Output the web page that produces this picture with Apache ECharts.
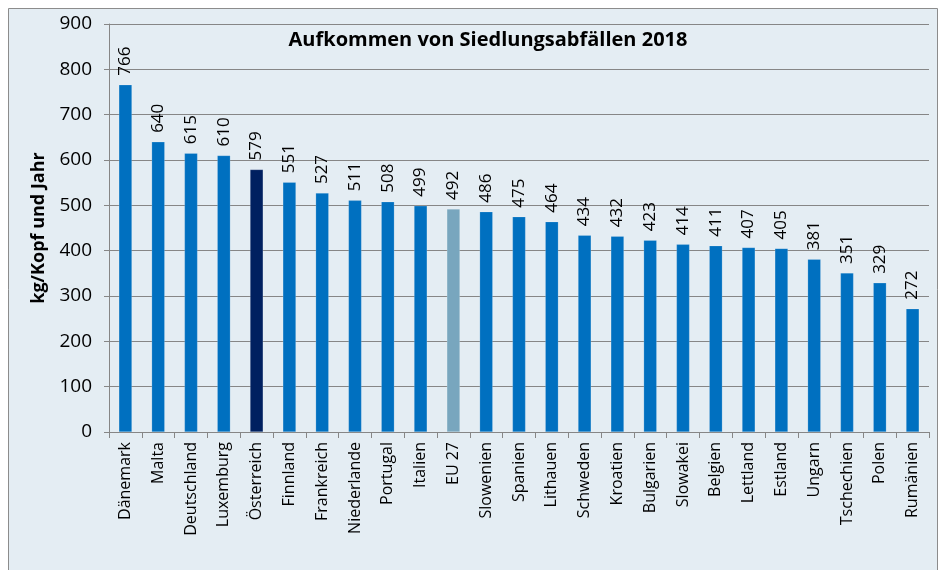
<!DOCTYPE html>
<html lang="de">
<head>
    <meta charset="utf-8">
    <title>Siedlungsabfälle 2018</title>
    <script src="https://cdn.jsdelivr.net/npm/echarts@6/dist/echarts.min.js"></script>
    <style>
        html, body { margin: 0; padding: 0; background: #ffffff; }
    </style>
</head>
<body>

<div id="main" style="width: 943px;height:570px;"></div>

<script type="text/javascript">

    var laender = ['Dänemark','Malta','Deutschland','Luxemburg','Österreich','Finnland','Frankreich','Niederlande',
        'Portugal','Italien','EU 27','Slowenien','Spanien','Lithauen','Schweden','Kroatien','Bulgarien',
        'Slowakei','Belgien','Lettland','Estland','Ungarn','Tschechien','Polen','Rumänien'];
    var werte = [766,640,615,610,579,551,527,511,508,499,492,486,475,464,434,432,423,414,411,407,405,381,351,329,272];
    var yTicks = [0,100,200,300,400,500,600,700,800,900];

    var schrift = '"Open Sans", "Noto Sans", sans-serif';

    var daten = [];
    for (var i = 0; i < werte.length; i++) {
        var farbe = '#0070c0';
        if (laender[i] == 'Österreich') farbe = '#002060';
        if (laender[i] == 'EU 27') farbe = '#78a6be';
        daten.push({ value: werte[i], itemStyle: { color: farbe } });
    }

    var myChart = echarts.init(document.getElementById('main'));

    var option = {
        backgroundColor: '#ffffff',
        animation: false,
        graphic: [{
            type: 'rect',
            z: -10,
            shape: { x: 8.5, y: 8.5, width: 929, height: 580 },
            style: { fill: '#e4edf3', stroke: '#8c8c8c', lineWidth: 1 }
        }],
        title: {
            text: 'Aufkommen von Siedlungsabfällen 2018',
            left: 483,
            top: 25,
            textAlign: 'center',
            textStyle: { color: '#000', fontSize: 20, fontWeight: 'bold', fontFamily: schrift }
        },
        grid: { left: 109, right: 14, top: 24, bottom: 138 },
        xAxis: {
            type: 'category',
            data: laender,
            axisLine: { lineStyle: { color: '#868686' } },
            axisTick: { show: true, length: 6, lineStyle: { color: '#868686' } },
            axisLabel: {
                rotate: 90,
                interval: 0,
                color: '#000',
                fontSize: 16,
                margin: 10,
                fontFamily: schrift
            }
        },
        yAxis: {
            type: 'value',
            min: yTicks[0],
            max: yTicks[yTicks.length - 1],
            interval: 100,
            name: 'kg/Kopf und Jahr',
            nameLocation: 'middle',
            nameGap: 61,
            nameTextStyle: { color: '#000', fontSize: 18, fontWeight: 'bold', fontFamily: schrift },
            axisLine: { show: true, lineStyle: { color: '#868686' } },
            axisTick: { show: true, length: 5, lineStyle: { color: '#868686' } },
            splitLine: { lineStyle: { color: '#868686' } },
            axisLabel: { color: '#000', fontSize: 19, margin: 17, fontFamily: schrift }
        },
        series: [{
            type: 'bar',
            data: daten,
            barWidth: '40%',
            itemStyle: { borderColor: 'rgba(255,255,255,0.35)', borderWidth: 0.5 },
            label: {
                show: true,
                position: 'top',
                rotate: 90,
                align: 'left',
                verticalAlign: 'middle',
                distance: 9,
                color: '#000',
                fontSize: 17,
                fontFamily: schrift
            }
        }]
    };

    myChart.setOption(option);

</script>

</body>
</html>
